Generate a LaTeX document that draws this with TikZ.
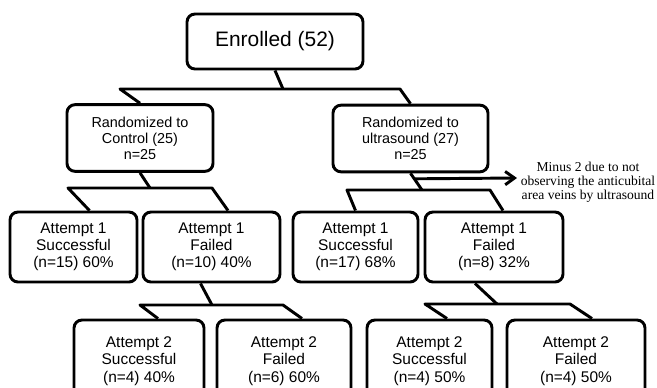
\documentclass[tikz,border=0pt]{standalone}
\usepackage{fontspec}
\setmainfont{Liberation Sans}
\newfontfamily\notefont{Liberation Serif}
\usetikzlibrary{calc,arrows.meta}

\tikzset{
  flowbox/.style={draw, line width=2.2pt, rounded corners=6pt, align=center, inner sep=0pt},
  topbox/.style={flowbox, font=\fontsize{15.7}{17}\selectfont},
  armbox/.style={flowbox, minimum height=50pt, font=\fontsize{10.8}{12}\selectfont},
  tryone/.style={flowbox, minimum height=52.5pt, font=\fontsize{11.6}{12.8}\selectfont},
  trytwo/.style={flowbox, minimum height=61.5pt, font=\fontsize{11.6}{13.2}\selectfont},
  link/.style={line width=2.2pt, line join=round}
}

\begin{document}
\begin{tikzpicture}[x=0.75pt,y=-0.75pt] % one unit is one pixel of the picture
            \useasboundingbox (0,0) rectangle (657,387);
            \clip (0,0) rectangle (657,387);

            % Enrolled
            \node[topbox, minimum width=132pt, minimum height=41.25pt] (enr) at (275,41.5) {\raisebox{3pt}{Enrolled (52)}};

            % The two arms
            \node[armbox, minimum width=109.5pt] (ctrl) at (140,138) {Randomized to\\Control (25)\\n=25};
            \node[armbox, minimum width=116.25pt] (us) at (410.5,138.5) {Randomized to\\ultrasound (27)\\n=25};

            % First attempt
            \node[tryone, minimum width=95.25pt] (b1) at (73.5,247) {Attempt 1\\Successful\\(n=15) 60\%};
            \node[tryone, minimum width=102.75pt] (b2) at (211.5,247) {Attempt 1\\Failed\\(n=10) 40\%};
            \node[tryone, minimum width=93.75pt] (b3) at (355.5,247) {Attempt 1\\Successful\\(n=17) 68\%};
            \node[tryone, minimum width=103.5pt] (b4) at (494,247) {Attempt 1\\Failed\\(n=8) 32\%};

            % Second attempt
            \node[trytwo, minimum width=97.5pt] (b5) at (139,361) {Attempt 2\\Successful\\(n=4) 40\%};
            \node[trytwo, minimum width=100.5pt] (b6) at (284,361) {Attempt 2\\Failed\\(n=6) 60\%};
            \node[trytwo, minimum width=93.75pt] (b7) at (429.5,361) {Attempt 2\\Successful\\(n=4) 50\%};
            \node[trytwo, minimum width=103.5pt] (b8) at (576,361) {Attempt 2\\Failed\\(n=4) 50\%};

            % Side note
            \node[font=\notefont\fontsize{10.2}{10.5}\selectfont, align=center, inner sep=0pt] (note) at (588,182) {Minus 2 due to not\\observing the anticubital\\area veins by ultrasound};

            % Split below Enrolled
            \coordinate (s0) at (283,89);
            \coordinate (s0l) at (120,89);
            \coordinate (s0r) at (400,89);
            \draw[link] (enr.south) -- (s0);
            \draw[link] (ctrl.north) -- (s0l) -- (s0r) -- (us.north);

            % Split below Control
            \coordinate (s1) at (150,188);
            \coordinate (s1l) at (68,188);
            \coordinate (s1r) at (212,188);
            \draw[link] (ctrl.south) -- (s1);
            \draw[link] ($(b1.north)+(16,0)$) -- (s1l) -- (s1r) -- ($(b2.north)+(16.5,0)$);

            % Split below ultrasound
            \coordinate (s2) at (422,190);
            \coordinate (s2l) at (347,190);
            \coordinate (s2r) at (490,190);
            \draw[link] (us.south) -- (s2);
            \draw[link] (b3.north) -- (s2l) -- (s2r) -- ($(b4.north)+(9,0)$);

            % Arrow to the note
            \coordinate (a1) at (517,178);
            \draw[link,-{Straight Barb[length=7pt,width=10pt]}] ($(us.south)!0.33!(s2)$) -- (a1);

            % Split below control failed
            \coordinate (s3) at (212,305);
            \coordinate (s3l) at (140,305);
            \coordinate (s3r) at (283,305);
            \draw[link] ($(b2.south)+(-11,0)$) -- (s3);
            \draw[link] ($(b5.north)+(19,0)$) -- (s3l) -- (s3r) -- ($(b6.north)+(18,0)$);

            % Split below ultrasound failed
            \coordinate (s4) at (497,304);
            \coordinate (s4l) at (425,304);
            \coordinate (s4r) at (570,304);
            \draw[link] ($(b4.south)+(-19,0)$) -- (s4);
            \draw[link] ($(b7.north)+(17.5,0)$) -- (s4l) -- (s4r) -- ($(b8.north)+(16,0)$);
        \end{tikzpicture}
\end{document}
